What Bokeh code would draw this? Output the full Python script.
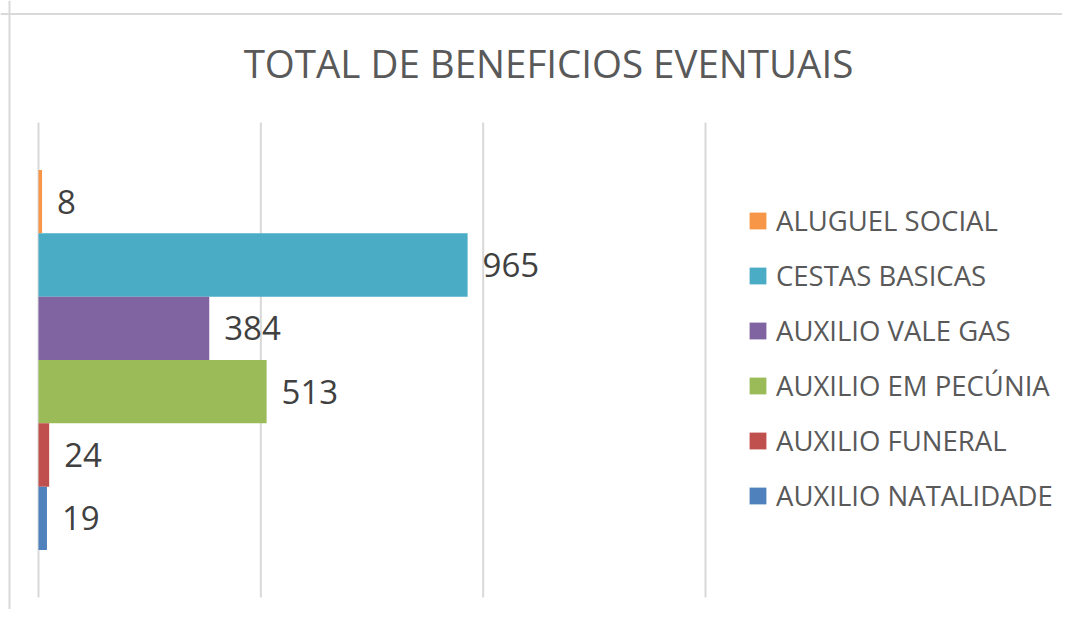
from bokeh.plotting import figure
from bokeh.models import Range1d, Legend, LegendItem, Label, ColumnDataSource, Span
from bokeh.core.properties import value
from bokeh.embed import file_html
from bokeh.resources import INLINE

# ---- data ----
series = ["ALUGUEL SOCIAL", "CESTAS BASICAS", "AUXILIO VALE GAS",
          "AUXILIO EM PECÚNIA", "AUXILIO FUNERAL", "AUXILIO NATALIDADE"]
values = [8, 965, 384, 513, 24, 19]
colors = ["#F79646", "#4BACC6", "#8064A2", "#9BBB59", "#C0504D", "#4F81BD"]
grid_ticks = [0, 500, 1000, 1500]
title_text = "TOTAL DE BENEFICIOS EVENTUAIS"

FONT = "Open Sans"
n = len(series)
ypos = [n - 1 - i for i in range(n)]

# ---- layout constants (picture pixels) ----
W, H = 1062, 609
ORG_X, ORG_Y = 0, 0                 # figure origin in the picture
PX0, PX1 = 38.0, 705.0              # x of value 0 and value 1500
XMAX = grid_ticks[-1]
sx = (PX1 - PX0) / XMAX             # px per unit
PY_TOP, PY_BOT = 122.0, 597.0       # plot area (gridline extent)
ROW = (PY_BOT - PY_TOP) / 7.5       # px per bar
PY_B0 = PY_BOT - 1.25 * ROW         # centre of bottom bar (y=0)

x_lo = (ORG_X - PX0) / sx
x_hi = (ORG_X + W - PX0) / sx
y_hi = (PY_B0 - ORG_Y) / ROW
y_lo = (PY_B0 - (ORG_Y + H)) / ROW
g_top = (PY_B0 - PY_TOP) / ROW
g_bot = (PY_B0 - PY_BOT) / ROW

p = figure(width=W, height=H, output_backend="svg", toolbar_location=None,
           x_range=Range1d(x_lo, x_hi), y_range=Range1d(y_lo, y_hi),
           min_border=0)
p.outline_line_color = None
p.background_fill_color = "white"
p.border_fill_color = "white"
p.xaxis.visible = False
p.yaxis.visible = False
p.xgrid.visible = False
p.ygrid.visible = False

# chart border (top and left)
p.add_layout(Span(location=(PY_B0 - 13.5) / ROW, dimension="width",
                  line_color="#d9d9d9", line_width=2))
p.add_layout(Span(location=(9 - PX0) / sx, dimension="height",
                  line_color="#d9d9d9", line_width=2))

# vertical gridlines
p.segment(x0=grid_ticks, x1=grid_ticks, y0=[g_bot] * len(grid_ticks),
          y1=[g_top] * len(grid_ticks), line_color="#d9d9d9", line_width=2)

items = []
for i in range(n):
    src = ColumnDataSource(dict(y=[ypos[i]], right=[values[i]], lab=[str(values[i])]))
    r = p.hbar(y="y", right="right", left=0, height=1, source=src,
               fill_color=colors[i], line_color=None)
    p.text(x="right", y="y", text="lab", source=src, x_offset=15,
           text_baseline="middle", text_align="left",
           text_font=value(FONT), text_font_size="33px", text_color="#404040")
    items.append(LegendItem(label=series[i], renderers=[r]))

legend = Legend(items=items, location=(747 - ORG_X, ORG_Y + H - 514),
                orientation="vertical",
                label_text_font=FONT, label_text_font_size="27.5px",
                label_text_color="#595959", glyph_width=21, glyph_height=21,
                label_standoff=8, spacing=18, padding=0, margin=0,
                border_line_color=None, background_fill_alpha=0)
p.add_layout(legend, "center")

p.add_layout(Label(x=548 - ORG_X, y=ORG_Y + H - 62, x_units="screen", y_units="screen",
                   text=title_text, text_align="center", text_baseline="alphabetic",
                   text_font=FONT, text_font_size="38.5px", text_color="#595959"))

open("out.html", "w").write(file_html(p, INLINE))
